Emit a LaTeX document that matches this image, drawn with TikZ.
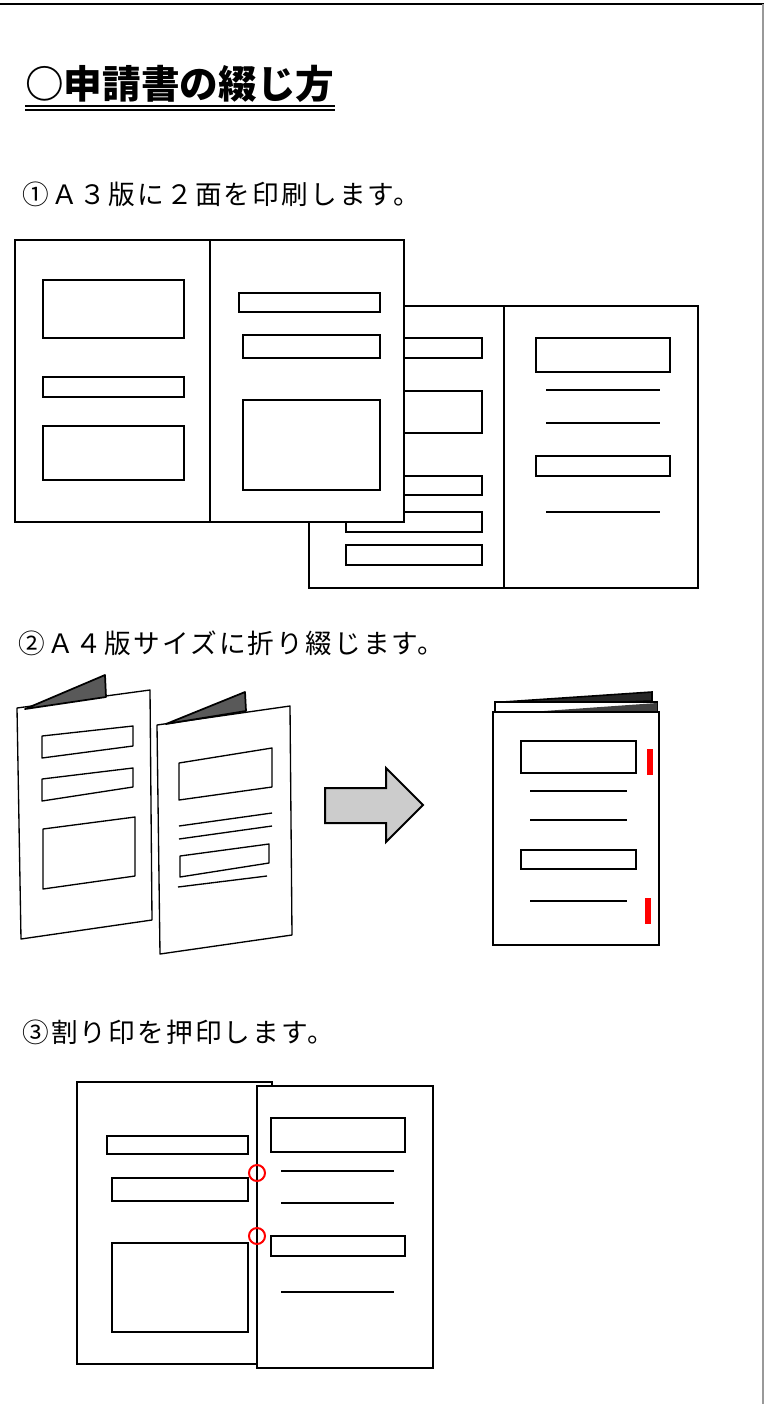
\documentclass[tikz,border=0pt]{standalone}
\usepackage{fontspec}
\newfontfamily\jp[LetterSpace=8]{Noto Sans CJK JP}
\newfontfamily\jphead{Noto Sans CJK JP}
\usetikzlibrary{positioning}
\tikzset{
    sheet/.style={
           draw=black, fill=white,
           line width=1.5pt,
           },
    field/.style={
           draw=black, line width=1.5pt,
           },
    leaf/.style={
           draw=black, fill=white,
           line width=1pt, line join=round,
           },
    flap/.style={
           draw=black, fill=black!65,
           line width=1.3pt, line join=round,
           },
    step label/.style={
           anchor=west, inner sep=0pt,
           font=\jp\fontsize{20pt}{20pt}\selectfont,
           },
    seal/.style={draw=red, line width=1.5pt},
}

\begin{document}
\begin{tikzpicture}[x=0.75pt,y=-0.75pt]
\useasboundingbox (0,0) rectangle (764,1404);
% page frame
\draw[line width=1.6pt] (0,4) -- (764,4);
\draw[black!40, line width=1pt] (763,4) -- (763,1404);

% heading
\node[anchor=west, inner sep=0pt, font=\jphead\bfseries\fontsize{29pt}{29pt}\selectfont] (title) at (25,84) {○申請書の綴じ方};
\draw[line width=1.3pt] ([yshift=-2.5pt]title.south west) -- ([yshift=-2.5pt]title.south east);
\draw[line width=1.3pt] ([yshift=-5.3pt]title.south west) -- ([yshift=-5.3pt]title.south east);

% (1) two sheets printed on A3
\node[step label] (step1) at (22,194) {①Ａ３版に２面を印刷します。};
\filldraw[sheet] (309,306) rectangle (698,588);
\draw[sheet] (504,305) -- (504,588);
\foreach \t/\b in {338/358, 391/433, 476/495, 512/532, 545/565}
    \draw[field] (346,\t) rectangle (482,\b);
\draw[field] (536,338) rectangle (670,372);
\draw[field] (536,456) rectangle (670,476);
\foreach \y in {390, 423, 512}
    \draw[field] (546,\y) -- (660,\y);
\filldraw[sheet] (15,240) rectangle (404,522);
\draw[sheet] (210,240) -- (210,522);
\draw[field] (43,280) rectangle (184,338);
\draw[field] (43,377) rectangle (184,397);
\draw[field] (43,426) rectangle (184,480);
\draw[field] (239,293) rectangle (380,312);
\draw[field] (243,335) rectangle (380,358);
\draw[field] (243,400) rectangle (380,490);

% (2) fold to A4 and bind
\node[step label] (step2) at (18,643) {②Ａ４版サイズに折り綴じます。};
\filldraw[leaf] (17,708) -- (150,690) -- (152,920) -- (21,939) -- cycle;
\filldraw[flap] (25,709) -- (105,675) -- (106,697) -- cycle;
\draw[leaf] (42,736) -- (133,726) -- (133,746) -- (42,758) -- cycle;
\draw[leaf] (42,779) -- (133,768) -- (133,787) -- (42,801) -- cycle;
\draw[leaf] (43,829) -- (135,817) -- (135,876) -- (43,889) -- cycle;
\filldraw[leaf] (157,725) -- (290,706) -- (292,935) -- (160,954) -- cycle;
\filldraw[flap] (166,724) -- (245,692) -- (246,711) -- cycle;
\draw[leaf] (179,763) -- (272,748) -- (272,787) -- (179,800) -- cycle;
\draw[leaf] (180,856) -- (269,844) -- (269,863) -- (180,877) -- cycle;
\draw[leaf] (179,826) -- (272,813);
\draw[leaf] (179,839) -- (272,826);
\draw[leaf] (178,887) -- (267,876);
\filldraw[draw=black, fill=black!20, line width=1.5pt, line join=miter]
    (325,788) -- (386,788) -- (386,768) -- (423,805) -- (386,842) -- (386,823) -- (325,823) -- cycle;
\filldraw[draw=black, fill=black!85, line width=1.2pt] (503,702) -- (652,692) -- (652,701) -- (503,706) -- cycle;
\filldraw[draw=black, fill=white, line width=1.5pt] (495,702) rectangle (657,712);
\fill[black!75] (530,712) -- (657,703) -- (657,712) -- cycle;
\filldraw[sheet] (493,712) rectangle (659,945);
\draw[field] (521,741) rectangle (636,773);
\draw[field] (521,850) rectangle (636,869);
\foreach \y in {791, 820, 901}
    \draw[field] (530,\y) -- (627,\y);
\fill[red] (647,749) rectangle (653,775);
\fill[red] (645,898) rectangle (651,924);

% (3) seal across the fold
\node[step label] (step3) at (22,1032) {③割り印を押印します。};
\filldraw[sheet] (77,1082) rectangle (272,1364);
\draw[field] (107,1136) rectangle (248,1154);
\draw[field] (112,1178) rectangle (248,1201);
\draw[field] (112,1243) rectangle (248,1332);
\filldraw[sheet] (257,1086) rectangle (433,1368);
\draw[field] (271,1118) rectangle (405,1152);
\draw[field] (271,1236) rectangle (405,1256);
\foreach \y in {1171, 1203, 1292}
    \draw[field] (281,\y) -- (394,\y);
\draw[seal] (257,1173) circle (6pt);
\draw[seal] (257,1236) circle (6pt);
\end{tikzpicture}
\end{document}
